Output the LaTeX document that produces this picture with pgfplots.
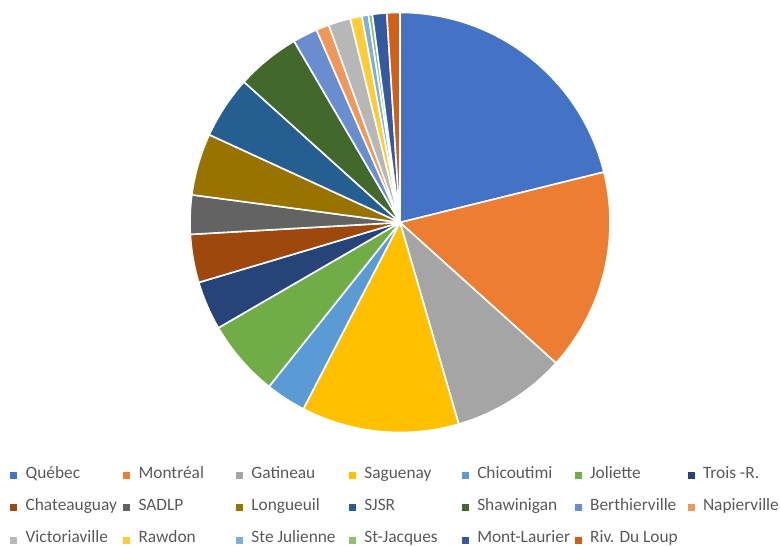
\documentclass[border=0pt]{standalone}
\usepackage{pgfplots}
\pgfplotsset{compat=1.18}
\usepackage{pgfplotstable}
\usepackage{fontspec}
\setmainfont{Carlito}
\definecolor{c0}{HTML}{4472C4}
\definecolor{c1}{HTML}{ED7D31}
\definecolor{c2}{HTML}{A5A5A5}
\definecolor{c3}{HTML}{FFC000}
\definecolor{c4}{HTML}{5B9BD5}
\definecolor{c5}{HTML}{70AD47}
\definecolor{c6}{HTML}{264478}
\definecolor{c7}{HTML}{9E480E}
\definecolor{c8}{HTML}{636363}
\definecolor{c9}{HTML}{997300}
\definecolor{c10}{HTML}{255E91}
\definecolor{c11}{HTML}{43682B}
\definecolor{c12}{HTML}{698ED0}
\definecolor{c13}{HTML}{F1975A}
\definecolor{c14}{HTML}{B7B7B7}
\definecolor{c15}{HTML}{FFCD33}
\definecolor{c16}{HTML}{7CAFDD}
\definecolor{c17}{HTML}{8CC168}
\definecolor{c18}{HTML}{335AA1}
\definecolor{c19}{HTML}{D26012}
\definecolor{legtext}{HTML}{595959}

\pgfplotstableread[col sep=comma]{
name,value
Québec,21.1
Montréal,15.5
Gatineau,8.8
Saguenay,12.1
Chicoutimi,3.1
Joliette,5.9
Trois -R.,3.75
Chateauguay,3.7
SADLP,3.0
Longueuil,4.75
SJSR,4.8
Shawinigan,4.9
Berthierville,1.9
Napierville,1.0
Victoriaville,1.7
Rawdon,0.9
Ste Julienne,0.5
St-Jacques,0.3
Mont-Laurier,1.1
Riv. Du Loup,1.0
}\pietable

% totals and cumulative angles (Excel: start at top, clockwise)
\def\total{0}
\pgfplotsforeachungrouped \i in {0,...,19}{%
  \pgfplotstablegetelem{\i}{value}\of\pietable
  \pgfmathsetmacro\total{\total+\pgfplotsretval}%
  \xdef\total{\total}%
}
\def\cum{0}
\pgfplotsforeachungrouped \i in {0,...,19}{%
  \pgfplotstablegetelem{\i}{value}\of\pietable
  \pgfmathsetmacro\a{90-360*(\cum/\total)}%
  \pgfmathsetmacro\cum{\cum+\pgfplotsretval}%
  \xdef\cum{\cum}%
  \pgfmathsetmacro\b{90-360*(\cum/\total)}%
  \expandafter\xdef\csname sa\i\endcsname{\a}%
  \expandafter\xdef\csname sb\i\endcsname{\b}%
  \pgfplotstablegetelem{\i}{name}\of\pietable
  \expandafter\xdef\csname sn\i\endcsname{\pgfplotsretval}%
}

\begin{document}
\begin{tikzpicture}
\begin{axis}[
  x=210bp, y=210bp,
  xmin=-1.9048, xmax=1.8095, ymin=-1.5405, ymax=1.0595,
  hide axis, clip=false,
  legend columns=7,
  legend cell align=left,
  legend style={
    at={(axis description cs:0.0129,0.1445)}, anchor=north west,
    draw=none, fill=none, inner sep=0pt,
    column sep=0pt, row sep=16.2bp,
    font=\fontsize{17.4}{20}\selectfont, text=legtext,
    nodes={inner sep=2bp, text height=9bp, text depth=3bp},
  },
]
\pgfplotsinvokeforeach{0,...,19}{%
  \fill[c#1, draw=white, line width=1.6bp, line join=round]
    (axis cs:0,0) -- ++(\csname sa#1\endcsname:210bp)
    arc[start angle=\csname sa#1\endcsname, end angle=\csname sb#1\endcsname, radius=210bp] -- cycle;
  \addlegendimage{legend image code/.code={\fill[c#1] (0bp,-3bp) rectangle (6bp,3bp);}}
  \addlegendentryexpanded{\noexpand\makebox[102.5bp][l]{\hspace{7bp}\csname sn#1\endcsname}}
}
\end{axis}
\pgfresetboundingbox
\path (current axis.south west) rectangle (current axis.north east);
\end{tikzpicture}
\end{document}
